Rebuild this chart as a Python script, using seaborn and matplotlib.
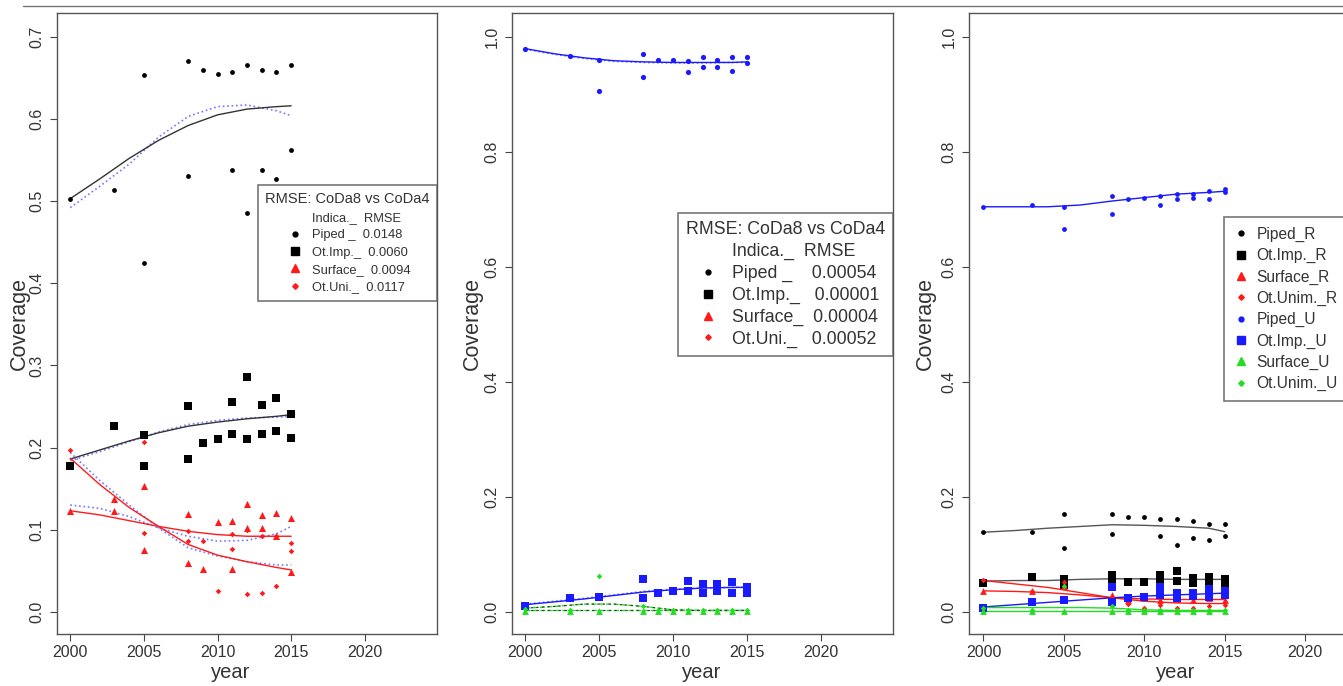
import matplotlib
matplotlib.use("Agg")
import matplotlib.pyplot as plt
from matplotlib.lines import Line2D
import pandas as pd
import seaborn as sns

sns.set_style("ticks")
plt.rcParams['font.family'] = ['Liberation Sans', 'DejaVu Sans']

# ---------------- data ----------------
fit_years = [2000, 2002, 2004, 2006, 2008, 2010, 2012, 2014, 2015]

# panel 1 (rural, CoDa8 solid vs CoDa4 dotted)
p1_piped_x = [2000, 2003, 2005, 2005, 2008, 2008, 2009, 2010, 2011, 2011, 2012, 2012, 2013, 2013, 2014, 2014, 2015, 2015]
p1_piped_y = [0.503, 0.514, 0.653, 0.425, 0.671, 0.531, 0.660, 0.655, 0.657, 0.538, 0.666, 0.485, 0.660, 0.538, 0.657, 0.527, 0.666, 0.562]
p1_imp_x = [2000, 2003, 2005, 2005, 2008, 2008, 2009, 2010, 2011, 2011, 2012, 2012, 2013, 2013, 2014, 2014, 2015, 2015]
p1_imp_y = [0.177, 0.226, 0.215, 0.177, 0.251, 0.186, 0.205, 0.211, 0.256, 0.216, 0.286, 0.211, 0.252, 0.216, 0.260, 0.220, 0.241, 0.212]
p1_surf_x = [2000, 2003, 2003, 2005, 2005, 2008, 2008, 2009, 2010, 2011, 2011, 2012, 2012, 2013, 2013, 2014, 2014, 2015, 2015]
p1_surf_y = [0.123, 0.137, 0.123, 0.153, 0.075, 0.119, 0.060, 0.052, 0.109, 0.111, 0.052, 0.131, 0.102, 0.118, 0.102, 0.120, 0.092, 0.114, 0.048]
p1_uni_x = [2000, 2005, 2005, 2008, 2008, 2009, 2010, 2011, 2011, 2012, 2012, 2013, 2013, 2014, 2014, 2015, 2015]
p1_uni_y = [0.197, 0.207, 0.096, 0.098, 0.086, 0.086, 0.025, 0.095, 0.077, 0.100, 0.022, 0.092, 0.023, 0.031, 0.092, 0.084, 0.074]

p1_piped_fit = [0.503, 0.527, 0.552, 0.574, 0.592, 0.605, 0.612, 0.615, 0.616]
p1_piped_fit4 = [0.492, 0.518, 0.545, 0.578, 0.603, 0.615, 0.617, 0.610, 0.604]
p1_imp_fit = [0.186, 0.197, 0.208, 0.218, 0.226, 0.231, 0.235, 0.238, 0.240]
p1_imp_fit4 = [0.184, 0.195, 0.207, 0.219, 0.228, 0.233, 0.236, 0.237, 0.238]
p1_surf_fit = [0.123, 0.118, 0.111, 0.104, 0.098, 0.094, 0.092, 0.092, 0.092]
p1_surf_fit4 = [0.130, 0.126, 0.116, 0.102, 0.092, 0.086, 0.087, 0.095, 0.104]
p1_uni_fit = [0.187, 0.155, 0.127, 0.104, 0.082, 0.069, 0.061, 0.054, 0.051]
p1_uni_fit4 = [0.194, 0.160, 0.130, 0.102, 0.078, 0.068, 0.061, 0.057, 0.057]

# panel 2 (urban)
p2_piped_x = [2000, 2003, 2005, 2005, 2008, 2008, 2009, 2010, 2011, 2011, 2012, 2012, 2013, 2013, 2014, 2014, 2015, 2015]
p2_piped_y = [0.980, 0.968, 0.961, 0.907, 0.970, 0.930, 0.961, 0.961, 0.958, 0.939, 0.965, 0.948, 0.961, 0.948, 0.965, 0.942, 0.965, 0.955]
p2_imp_x = [2000, 2003, 2005, 2008, 2008, 2009, 2010, 2011, 2011, 2012, 2012, 2013, 2013, 2014, 2014, 2015, 2015]
p2_imp_y = [0.011, 0.024, 0.027, 0.057, 0.024, 0.034, 0.037, 0.055, 0.037, 0.049, 0.034, 0.049, 0.037, 0.052, 0.034, 0.043, 0.034]
p2_surf_x = [2000, 2003, 2005, 2008, 2009, 2010, 2011, 2012, 2013, 2014, 2015]
p2_surf_y = [0.002, 0.002, 0.002, 0.002, 0.002, 0.002, 0.002, 0.002, 0.002, 0.002, 0.002]
p2_uni_x = [2000, 2003, 2005, 2008, 2009, 2010, 2011, 2012, 2013, 2014, 2015]
p2_uni_y = [0.005, 0.004, 0.063, 0.010, 0.004, 0.003, 0.003, 0.003, 0.003, 0.003, 0.003]

p2_piped_fit = [0.980, 0.971, 0.964, 0.959, 0.957, 0.956, 0.956, 0.956, 0.957]
p2_piped_fit4 = [0.979, 0.970, 0.963, 0.958, 0.956, 0.955, 0.955, 0.956, 0.956]
p2_imp_fit = [0.013, 0.018, 0.023, 0.029, 0.035, 0.039, 0.042, 0.043, 0.043]
p2_imp_fit4 = [0.014, 0.019, 0.024, 0.030, 0.036, 0.040, 0.042, 0.043, 0.044]
p2_surf_fit = [0.003, 0.003, 0.003, 0.003, 0.003, 0.003, 0.003, 0.003, 0.003]
p2_uni_fit = [0.007, 0.010, 0.014, 0.014, 0.010, 0.004, 0.003, 0.003, 0.003]

# panel 3 (rural + urban)
p3_years = [2000, 2003, 2005, 2008, 2009, 2010, 2011, 2012, 2013, 2014, 2015]
p3_pipedR_x = [2000, 2003, 2005, 2005, 2008, 2008, 2009, 2010, 2011, 2011, 2012, 2012, 2013, 2013, 2014, 2014, 2015, 2015]
p3_pipedR_y = [0.139, 0.139, 0.170, 0.111, 0.170, 0.136, 0.165, 0.165, 0.162, 0.133, 0.162, 0.117, 0.158, 0.129, 0.154, 0.126, 0.154, 0.133]
p3_impR_x = [2000, 2003, 2005, 2005, 2008, 2008, 2009, 2010, 2011, 2011, 2012, 2012, 2013, 2013, 2014, 2014, 2015, 2015]
p3_impR_y = [0.050, 0.061, 0.058, 0.047, 0.064, 0.051, 0.052, 0.052, 0.064, 0.050, 0.072, 0.054, 0.060, 0.051, 0.061, 0.051, 0.058, 0.050]
p3_surfR_y = [0.037, 0.037, 0.046, 0.030, 0.022, 0.024, 0.022, 0.023, 0.022, 0.024, 0.022]
p3_uniR_y = [0.056, 0.036, 0.052, 0.024, 0.015, 0.007, 0.012, 0.007, 0.007, 0.010, 0.012]
p3_pipedU_x = [2000, 2003, 2005, 2005, 2008, 2008, 2009, 2010, 2011, 2011, 2012, 2012, 2013, 2013, 2014, 2014, 2015, 2015]
p3_pipedU_y = [0.705, 0.708, 0.705, 0.667, 0.724, 0.693, 0.718, 0.721, 0.724, 0.708, 0.727, 0.718, 0.727, 0.721, 0.733, 0.718, 0.736, 0.730]
p3_impU_x = [2000, 2003, 2005, 2008, 2008, 2009, 2010, 2011, 2011, 2012, 2012, 2013, 2013, 2014, 2014, 2015, 2015]
p3_impU_y = [0.008, 0.018, 0.021, 0.043, 0.018, 0.025, 0.027, 0.030, 0.043, 0.033, 0.025, 0.033, 0.028, 0.040, 0.027, 0.030, 0.036]
p3_surfU_y = [0.002, 0.002, 0.002, 0.002, 0.002, 0.002, 0.002, 0.002, 0.002, 0.002, 0.002]
p3_uniU_y = [0.008, 0.004, 0.045, 0.010, 0.004, 0.004, 0.004, 0.004, 0.004, 0.004, 0.004]

p3_pipedR_fit = [0.139, 0.142, 0.146, 0.149, 0.152, 0.151, 0.149, 0.146, 0.140]
p3_impR_fit = [0.054, 0.055, 0.055, 0.057, 0.058, 0.058, 0.057, 0.057, 0.057]
p3_surfR_fit = [0.037, 0.036, 0.034, 0.030, 0.025, 0.023, 0.022, 0.022, 0.022]
p3_uniR_fit = [0.055, 0.049, 0.043, 0.034, 0.025, 0.019, 0.016, 0.015, 0.015]
p3_pipedU_fit = [0.705, 0.705, 0.705, 0.708, 0.715, 0.721, 0.727, 0.730, 0.732]
p3_impU_fit = [0.009, 0.013, 0.017, 0.021, 0.025, 0.028, 0.030, 0.032, 0.033]
p3_surfU_fit = [0.002, 0.002, 0.002, 0.002, 0.002, 0.002, 0.002, 0.002, 0.002]
p3_uniU_fit = [0.008, 0.008, 0.008, 0.008, 0.007, 0.004, 0.003, 0.003, 0.003]

rmse_title = "RMSE: CoDa8 vs CoDa4"
leg1_labels = ["Indica._  RMSE", "Piped _  0.0148", "Ot.Imp._  0.0060", "Surface_  0.0094", "Ot.Uni._  0.0117"]
leg2_labels = ["Indica._  RMSE", "Piped _    0.00054", "Ot.Imp._   0.00001", "Surface_  0.00004", "Ot.Uni._   0.00052"]
leg3_labels = ["Piped_R", "Ot.Imp._R", "Surface_R", "Ot.Unim._R", "Piped_U", "Ot.Imp._U", "Surface_U", "Ot.Unim._U"]

BLUE = "#1a1aff"
RED = "#ff1a1a"
GREEN = "#22dd22"
DARK = "#333333"
DOTBLUE = "#7777ff"
TXT = "#333333"


def pts(ax, x, y, color, marker, s):
    sns.scatterplot(x=x, y=y, color=color, marker=marker, s=s, linewidth=0,
                    ax=ax, legend=False, zorder=3)


def fit(ax, y, color, ls="-", lw=1.0):
    sns.lineplot(x=fit_years, y=y, color=color, linestyle=ls, lw=lw,
                 ax=ax, legend=False, errorbar=None, zorder=2)


W, H = 1343, 686
fig = plt.figure(figsize=(W / 100, H / 100), dpi=100)
bot = (H - 634) / H
hgt = 621 / H
ax1 = fig.add_axes([57 / W, bot, 380 / W, hgt])
ax2 = fig.add_axes([512 / W, bot, 381 / W, hgt])
ax3 = fig.add_axes([969 / W, bot, 415 / W, hgt])

# panel 1
fit(ax1, p1_piped_fit4, DOTBLUE, ":", 1.2)
fit(ax1, p1_piped_fit, DARK)
fit(ax1, p1_imp_fit4, DOTBLUE, ":", 1.2)
fit(ax1, p1_imp_fit, DARK)
fit(ax1, p1_surf_fit4, DOTBLUE, ":", 1.2)
fit(ax1, p1_surf_fit, RED)
fit(ax1, p1_uni_fit4, DOTBLUE, ":", 1.2)
fit(ax1, p1_uni_fit, RED)
pts(ax1, p1_piped_x, p1_piped_y, "black", "o", 12)
pts(ax1, p1_imp_x, p1_imp_y, "black", "s", 34)
pts(ax1, p1_surf_x, p1_surf_y, RED, "^", 26)
pts(ax1, p1_uni_x, p1_uni_y, RED, "D", 8)

# panel 2
fit(ax2, p2_piped_fit4, DOTBLUE, ":", 1.2)
fit(ax2, p2_piped_fit, BLUE)
fit(ax2, p2_imp_fit4, DOTBLUE, ":", 1.2)
fit(ax2, p2_imp_fit, BLUE)
fit(ax2, p2_surf_fit, GREEN, "--")
fit(ax2, p2_surf_fit, DARK, (0, (2, 3)), 0.8)
fit(ax2, p2_uni_fit, GREEN, "--")
fit(ax2, p2_uni_fit, DARK, (0, (2, 3)), 0.8)
pts(ax2, p2_piped_x, p2_piped_y, BLUE, "o", 14)
pts(ax2, p2_imp_x, p2_imp_y, BLUE, "s", 34)
pts(ax2, p2_surf_x, p2_surf_y, GREEN, "^", 24)
pts(ax2, p2_uni_x, p2_uni_y, GREEN, "D", 8)

# panel 3
fit(ax3, p3_pipedR_fit, "#555555")
fit(ax3, p3_impR_fit, "#555555")
fit(ax3, p3_surfR_fit, RED)
fit(ax3, p3_uniR_fit, RED)
fit(ax3, p3_pipedU_fit, BLUE)
fit(ax3, p3_impU_fit, BLUE)
fit(ax3, p3_surfU_fit, GREEN)
fit(ax3, p3_uniU_fit, GREEN)
pts(ax3, p3_pipedR_x, p3_pipedR_y, "black", "o", 12)
pts(ax3, p3_impR_x, p3_impR_y, "black", "s", 34)
pts(ax3, p3_years, p3_surfR_y, RED, "^", 24)
pts(ax3, p3_years, p3_uniR_y, RED, "D", 8)
pts(ax3, p3_pipedU_x, p3_pipedU_y, BLUE, "o", 12)
pts(ax3, p3_impU_x, p3_impU_y, BLUE, "s", 34)
pts(ax3, p3_years, p3_surfU_y, GREEN, "^", 24)
pts(ax3, p3_years, p3_uniU_y, GREEN, "D", 8)

panels = [(ax1, (-0.027, 0.729), [0, .1, .2, .3, .4, .5, .6, .7], 18, 231),
          (ax2, (-0.038, 1.042), [0, .2, .4, .6, .8, 1.0], 471, 702),
          (ax3, (-0.038, 1.042), [0, .2, .4, .6, .8, 1.0], 924, 1176)]
for ax, ylim, yt, ylab_x, xlab_x in panels:
    ax.set_xlim(1999.1, 2024.9)
    ax.set_ylim(*ylim)
    ax.set_xticks([2000, 2005, 2010, 2015, 2020])
    ax.set_yticks(yt)
    ax.set_yticklabels([f"{v:.1f}" for v in yt], rotation=90, va="center")
    ax.tick_params(axis="both", direction="out", length=5, width=0.8,
                   color="#444444", labelsize=11.5, labelcolor=TXT, pad=3)
    ax.tick_params(axis="y", pad=4)
    for sp in ax.spines.values():
        sp.set_visible(True)
        sp.set_color("#555555")
        sp.set_linewidth(1.0)
    ax.set_xlabel("year", fontsize=14.5, color=TXT)
    ax.set_ylabel("Coverage", fontsize=15.5, color=TXT)
    x0 = ax.get_position().x0 * W
    w = ax.get_position().width * W
    ax.yaxis.set_label_coords((ylab_x + 12 - x0) / w, 0.5)
    ax.xaxis.set_label_coords((xlab_x - x0) / w, -0.046)


def h(marker, color, ms):
    return Line2D([], [], ls="", marker=marker, color=color, markersize=ms)


rmse_handles = [h("o", "white", 4), h("o", "black", 3.5), h("s", "black", 6),
                h("^", RED, 6), h("D", RED, 2.8)]
leg = ax1.legend(rmse_handles, leg1_labels, title=rmse_title, loc="upper left",
                 bbox_to_anchor=(0.529, 0.723), borderaxespad=0,
                 fontsize=9.3, title_fontsize=10.5,
                 frameon=True, fancybox=False, edgecolor="#555555",
                 handletextpad=0.5, labelspacing=0.42, borderpad=0.55,
                 handlelength=1.6, labelcolor=TXT)
leg.get_frame().set_linewidth(1.2)
leg.get_title().set_color(TXT)

leg = ax2.legend(rmse_handles, leg2_labels, title=rmse_title, loc="upper left",
                 bbox_to_anchor=(0.436, 0.678), borderaxespad=0,
                 fontsize=12.8, title_fontsize=12.8,
                 frameon=True, fancybox=False, edgecolor="#555555",
                 handletextpad=0.4, labelspacing=0.27, borderpad=0.45,
                 handlelength=1.8, labelcolor=TXT)
leg.get_frame().set_linewidth(1.2)
leg.get_title().set_color(TXT)

leg3_handles = [h("o", "black", 3.5), h("s", "black", 6), h("^", RED, 6), h("D", RED, 2.8),
                h("o", BLUE, 3.5), h("s", BLUE, 6), h("^", GREEN, 6), h("D", GREEN, 2.8)]
leg = ax3.legend(leg3_handles, leg3_labels, loc="upper left",
                 bbox_to_anchor=(0.614, 0.671), borderaxespad=0, fontsize=11.2,
                 frameon=True, fancybox=False, edgecolor="#555555",
                 handletextpad=0.5, labelspacing=0.4, borderpad=0.6,
                 handlelength=1.0, labelcolor=TXT)
leg.get_frame().set_linewidth(1.2)

fig.add_artist(Line2D([23 / W, 1], [1 - 6 / H, 1 - 6 / H], color="#777777",
                      lw=1, transform=fig.transFigure))

fig.savefig("out.png", dpi=100)
